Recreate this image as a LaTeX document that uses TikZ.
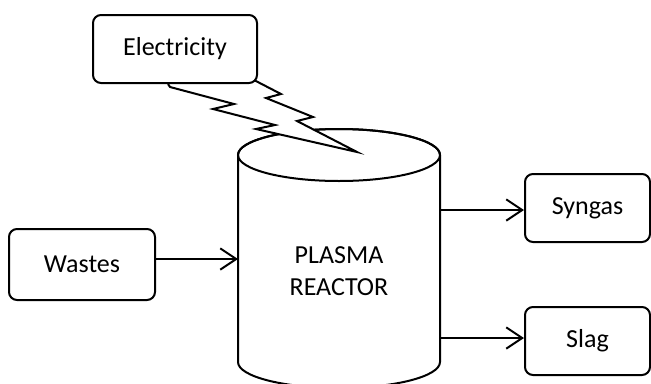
\documentclass[tikz,border=0pt]{standalone}
\usepackage{fontspec}
\setmainfont{Carlito}
\usetikzlibrary{arrows.meta}
\tikzset{
  lw/.style={line width=1.5pt},
  procbox/.style={draw, lw, rounded corners=6pt, fill=white, inner sep=0pt,
    font=\fontsize{19.5}{24}\selectfont, align=center},
  flow/.style={lw, -{Straight Barb[length=12pt,width=16pt,line width=1.5pt]}},
}
\begin{document}
\begin{tikzpicture}[x=0.75pt,y=-0.75pt]
\useasboundingbox (0,0) rectangle (651,383);
% reactor cylinder
\filldraw[lw, fill=white] (238,155) -- (238,362)
  arc[start angle=180, end angle=360, x radius=75.75pt, y radius=19.5pt]
  -- (440,155)
  arc[start angle=0, end angle=180, x radius=75.75pt, y radius=19.5pt] -- cycle;
\draw[lw] (339,155) ellipse [x radius=75.75pt, y radius=19.5pt];
\node[font=\fontsize{19.5}{24}\selectfont, align=center] (reactor) at (339,271) {PLASMA\\REACTOR};
% lightning bolt
\filldraw[lw, fill=white, line join=miter] (168,84) -- (170,87) -- (234,104) -- (213,109) -- (275,125)
  -- (256,129) -- (357,152) -- (297,121) -- (313,117) -- (266,98) -- (281,94) -- (252,79);
% boxes
\node[procbox, minimum width=123pt, minimum height=51pt] (elec) at (175,49) {Electricity};
\node[procbox, minimum width=109.5pt, minimum height=53.25pt] (wastes) at (82,264.5) {Wastes};
\node[procbox, minimum width=93.75pt, minimum height=51pt] (syngas) at (587.5,208) {Syngas};
\node[procbox, minimum width=93.75pt, minimum height=51pt] (slag) at (587.5,341) {Slag};
% connectors
\coordinate (rin) at (238,259);
\coordinate (rsyn) at (440,210);
\coordinate (rslag) at (440,338);
\draw[flow] (wastes.east |- rin) -- (rin);
\draw[flow] (rsyn) -- (syngas.west |- rsyn);
\draw[flow] (rslag) -- (slag.west |- rslag);
\end{tikzpicture}
\end{document}
